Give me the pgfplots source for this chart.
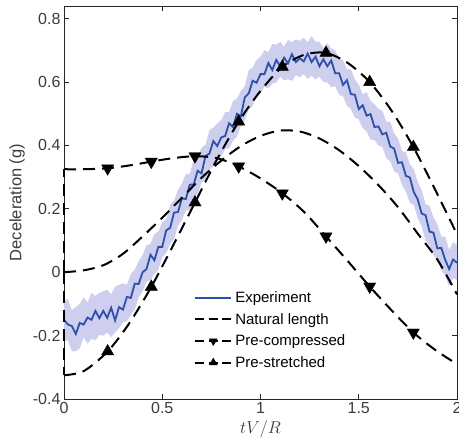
\documentclass[border=0pt]{standalone}
\usepackage{fontspec}
\setmainfont{Liberation Sans}
\usepackage{pgfplots}
\pgfplotsset{compat=1.18}
\usepackage{pgfplotstable}
\usepgfplotslibrary{fillbetween}

\definecolor{expblue}{RGB}{45,80,170}
\definecolor{bandcol}{RGB}{206,206,238}
\definecolor{axgray}{RGB}{38,38,38}
\definecolor{txtgray}{RGB}{60,60,60}

\pgfplotstableread{
x y lo hi
0.00 -0.150 -0.215 -0.090
0.02 -0.165 -0.215 -0.085
0.04 -0.170 -0.250 -0.120
0.06 -0.195 -0.250 -0.110
0.08 -0.160 -0.240 -0.100
0.10 -0.165 -0.205 -0.080
0.12 -0.143 -0.225 -0.095
0.14 -0.150 -0.210 -0.065
0.16 -0.122 -0.215 -0.075
0.18 -0.145 -0.198 -0.065
0.20 -0.122 -0.200 -0.060
0.22 -0.144 -0.190 -0.055
0.24 -0.112 -0.205 -0.070
0.26 -0.152 -0.190 -0.045
0.28 -0.110 -0.177 -0.040
0.30 -0.118 -0.158 -0.035
0.32 -0.078 -0.155 -0.040
0.34 -0.081 -0.135 -0.005
0.36 -0.036 -0.118 0.008
0.38 -0.037 -0.080 0.035
0.40 0.000 -0.060 0.055
0.42 0.010 -0.030 0.085
0.44 0.055 -0.025 0.090
0.46 0.038 -0.005 0.120
0.48 0.080 0.008 0.128
0.50 0.080 0.047 0.157
0.52 0.132 0.060 0.167
0.54 0.140 0.089 0.213
0.56 0.188 0.104 0.226
0.58 0.190 0.147 0.260
0.60 0.233 0.165 0.280
0.62 0.231 0.195 0.310
0.64 0.276 0.195 0.310
0.66 0.277 0.230 0.355
0.68 0.320 0.248 0.368
0.70 0.312 0.282 0.392
0.72 0.367 0.295 0.402
0.74 0.374 0.324 0.448
0.76 0.414 0.334 0.456
0.78 0.398 0.357 0.470
0.80 0.425 0.365 0.480
0.82 0.430 0.390 0.505
0.84 0.470 0.390 0.505
0.86 0.458 0.415 0.540
0.88 0.500 0.428 0.548
0.90 0.492 0.462 0.572
0.92 0.552 0.480 0.587
0.94 0.564 0.514 0.638
0.96 0.604 0.524 0.646
0.98 0.598 0.557 0.670
1.00 0.625 0.565 0.680
1.02 0.625 0.585 0.700
1.04 0.660 0.580 0.695
1.06 0.638 0.595 0.720
1.08 0.670 0.598 0.718
1.10 0.650 0.617 0.727
1.12 0.677 0.605 0.712
1.14 0.659 0.609 0.733
1.16 0.688 0.604 0.726
1.18 0.663 0.622 0.735
1.20 0.675 0.615 0.730
1.22 0.665 0.625 0.740
1.24 0.690 0.610 0.725
1.26 0.663 0.620 0.745
1.28 0.680 0.608 0.728
1.30 0.650 0.617 0.727
1.32 0.672 0.600 0.707
1.34 0.650 0.599 0.723
1.36 0.668 0.584 0.706
1.38 0.628 0.587 0.700
1.40 0.628 0.560 0.675
1.42 0.591 0.555 0.670
1.44 0.606 0.525 0.640
1.46 0.562 0.515 0.640
1.48 0.560 0.488 0.608
1.50 0.515 0.482 0.592
1.52 0.527 0.455 0.562
1.54 0.494 0.444 0.568
1.56 0.499 0.419 0.541
1.58 0.458 0.417 0.530
1.60 0.460 0.400 0.515
1.62 0.435 0.395 0.510
1.64 0.440 0.360 0.475
1.66 0.397 0.350 0.475
1.68 0.390 0.318 0.438
1.70 0.345 0.312 0.422
1.72 0.347 0.275 0.382
1.74 0.304 0.254 0.378
1.76 0.299 0.219 0.341
1.78 0.253 0.212 0.325
1.80 0.230 0.170 0.285
1.82 0.185 0.145 0.260
1.84 0.180 0.100 0.215
1.86 0.128 0.085 0.210
1.88 0.125 0.053 0.173
1.90 0.075 0.042 0.152
1.92 0.077 0.005 0.112
1.94 0.039 -0.011 0.113
1.96 0.010 -0.045 0.070
1.98 0.040 -0.018 0.095
2.00 0.030 -0.025 0.085
}\expdata

\pgfplotstableread{
x y
0 0
0.1 0.006
0.2 0.022
0.3 0.058
0.4 0.113
0.5 0.172
0.6 0.235
0.7 0.298
0.8 0.352
0.9 0.398
1.0 0.430
1.1 0.447
1.2 0.444
1.3 0.422
1.4 0.385
1.5 0.335
1.6 0.275
1.7 0.205
1.8 0.122
1.9 0.040
2.0 -0.070
}\natdata

\pgfplotstableread{
x y
0 0.325
0.1 0.325
0.2222 0.328
0.3333 0.337
0.4444 0.349
0.5556 0.360
0.6667 0.366
0.7778 0.360
0.8889 0.334
1.0 0.296
1.1111 0.249
1.2222 0.190
1.3333 0.113
1.4444 0.035
1.5556 -0.045
1.6667 -0.120
1.7778 -0.190
1.8889 -0.245
2.0 -0.290
}\compdata

\pgfplotstableread{
x y
0.2222 0.328
0.4444 0.349
0.6667 0.366
0.8889 0.334
1.1111 0.249
1.3333 0.113
1.5556 -0.045
1.7778 -0.190
}\compmarks

\pgfplotstableread{
x y
0 -0.325
0.1 -0.312
0.2222 -0.250
0.3333 -0.160
0.4444 -0.046
0.5556 0.085
0.6667 0.220
0.7778 0.355
0.8889 0.475
1.0 0.572
1.1111 0.648
1.2222 0.686
1.3333 0.692
1.4444 0.660
1.5556 0.600
1.6667 0.510
1.7778 0.395
1.8889 0.260
2.0 0.120
}\strdata

\pgfplotstableread{
x y
0.2222 -0.250
0.4444 -0.046
0.6667 0.220
0.8889 0.475
1.1111 0.648
1.3333 0.692
1.5556 0.600
1.7778 0.395
}\strmarks

\begin{document}
\begin{tikzpicture}
\begin{axis}[
  scale only axis, width=393pt, height=393pt,
  xmin=0, xmax=2, ymin=-0.4, ymax=0.84,
  xtick={0,0.5,1,1.5,2}, ytick={-0.4,-0.2,0,0.2,0.4,0.6,0.8},
  tick align=inside, major tick length=5pt,
  axis line style={axgray, line width=0.8pt},
  tick style={axgray, line width=0.8pt},
  tick label style={font=\fontsize{16pt}{19pt}\selectfont, text=txtgray},
  /pgf/number format/assume math mode=true,
  xlabel={$tV/R$}, ylabel={Deceleration (g)},
  xlabel style={at={(axis description cs:0.5,-0.077)}, anchor=center, font=\fontsize{17pt}{20pt}\selectfont, text=txtgray},
  ylabel style={at={(axis description cs:-0.1196,0.5)}, anchor=center, font=\fontsize{16.5pt}{19pt}\selectfont, text=txtgray},
  clip=false,
  legend cell align=left,
  legend style={at={(axis cs:0.662,-0.0545)}, anchor=north west, draw=none, fill=none,
    font=\fontsize{15pt}{17pt}\selectfont, inner sep=0pt, nodes={inner sep=2pt}, row sep=5.2pt, column sep=1pt},
  legend image code/.code={\draw[#1] (0pt,0pt) -- (36pt,0pt);},
]
\addplot[name path=hi, draw=none, forget plot] table[x=x,y=hi]{\expdata};
\addplot[name path=lo, draw=none, forget plot] table[x=x,y=lo]{\expdata};
\addplot[fill=bandcol, draw=none, forget plot] fill between[of=hi and lo];
\addplot[expblue, line width=1.8pt] table[x=x,y=y]{\expdata};
\addlegendentry{Experiment}

\addplot[black, line width=2pt, dash pattern=on 12pt off 7pt, smooth,
  legend image code/.code={\draw[black, line width=2pt, dash pattern=on 9pt off 4.5pt] (0pt,0pt) -- (36pt,0pt);}]
  table[x=x,y=y]{\natdata};
\addlegendentry{Natural length}

\addplot[black, line width=2pt, dash pattern=on 12pt off 7pt, forget plot] coordinates {(0,0) (0,0.325)};
\addplot[black, line width=2pt, dash pattern=on 12pt off 7pt, smooth, forget plot] table[x=x,y=y]{\compdata};
\addplot[black, only marks, mark=triangle*, mark size=7pt, mark options={rotate=180, fill=black, draw=black, solid},
  legend image code/.code={\draw[black, line width=2pt, dash pattern=on 9pt off 4.5pt] (0pt,0pt) -- (36pt,0pt);
    \draw[black] plot[mark=triangle*, mark size=4.5pt, mark options={rotate=180, fill=black, solid}] coordinates {(18pt,0pt)};}]
  table[x=x,y=y]{\compmarks};
\addlegendentry{Pre-compressed}

\addplot[black, line width=2pt, dash pattern=on 12pt off 7pt, forget plot] coordinates {(0,0) (0,-0.325)};
\addplot[black, line width=2pt, dash pattern=on 12pt off 7pt, smooth, forget plot] table[x=x,y=y]{\strdata};
\addplot[black, only marks, mark=triangle*, mark size=7pt, mark options={fill=black, draw=black, solid},
  legend image code/.code={\draw[black, line width=2pt, dash pattern=on 9pt off 4.5pt] (0pt,0pt) -- (36pt,0pt);
    \draw[black] plot[mark=triangle*, mark size=4.5pt, mark options={fill=black, solid}] coordinates {(18pt,0pt)};}]
  table[x=x,y=y]{\strmarks};
\addlegendentry{Pre-stretched}
\end{axis}
\pgfresetboundingbox
\path[use as bounding box] ([xshift=-64pt,yshift=-44pt]current axis.south west) rectangle ([xshift=2pt,yshift=6pt]current axis.north east);
\end{tikzpicture}
\end{document}
